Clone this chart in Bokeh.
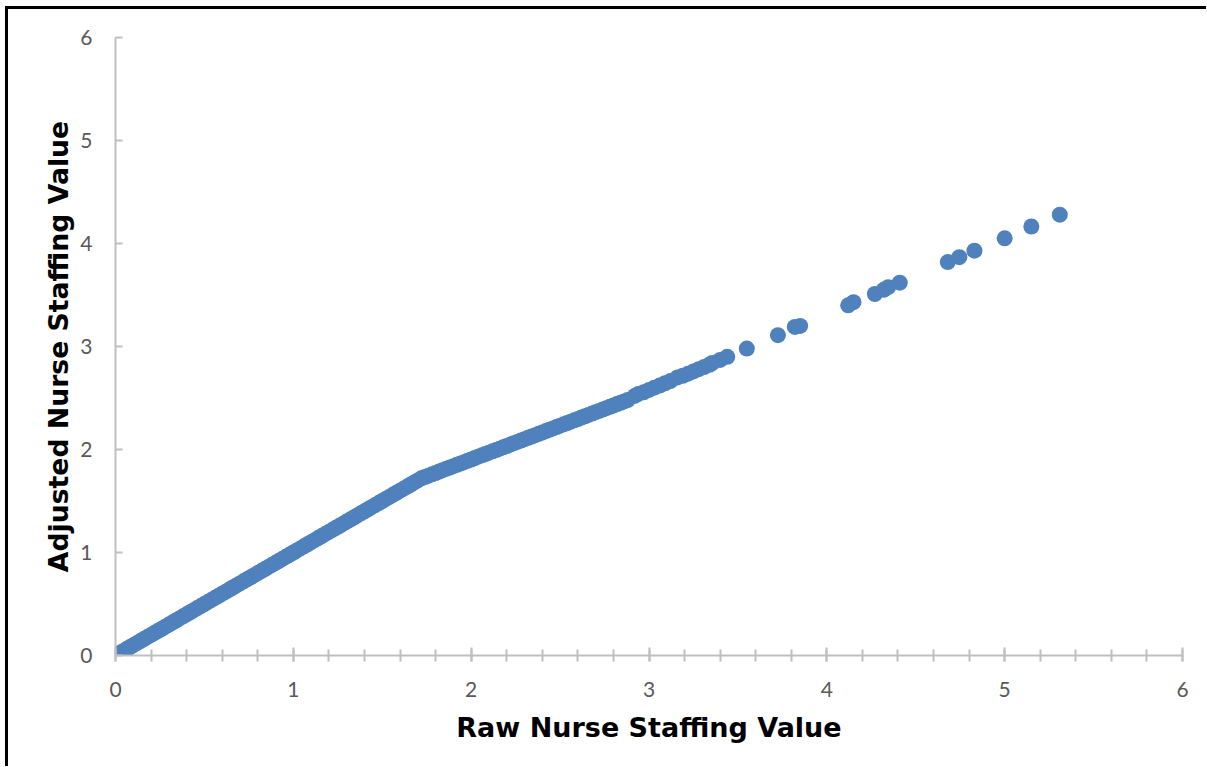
from bokeh.plotting import figure
from bokeh.models import SingleIntervalTicker, Range1d, ColumnDataSource
from bokeh.embed import file_html
from bokeh.resources import INLINE

# Dense part of the series (heavily overlapping markers)
raw_dense = [0.00, 0.02, 0.04, 0.06, 0.08, 0.10, 0.12, 0.14, 0.16, 0.18, 0.20,
             0.22, 0.24, 0.26, 0.28, 0.30, 0.32, 0.34, 0.36, 0.38, 0.40, 0.42,
             0.44, 0.46, 0.48, 0.50, 0.52, 0.54, 0.56, 0.58, 0.60, 0.62, 0.64,
             0.66, 0.68, 0.70, 0.72, 0.74, 0.76, 0.78, 0.80, 0.82, 0.84, 0.86,
             0.88, 0.90, 0.92, 0.94, 0.96, 0.98, 1.00, 1.02, 1.04, 1.06, 1.08,
             1.10, 1.12, 1.14, 1.16, 1.18, 1.20, 1.22, 1.24, 1.26, 1.28, 1.30,
             1.32, 1.34, 1.36, 1.38, 1.40, 1.42, 1.44, 1.46, 1.48, 1.50, 1.52,
             1.54, 1.56, 1.58, 1.60, 1.62, 1.64, 1.66, 1.68, 1.70, 1.72,
             1.74, 1.76, 1.78, 1.80, 1.82, 1.84, 1.86, 1.88, 1.90, 1.92, 1.94,
             1.96, 1.98, 2.00, 2.02, 2.04, 2.06, 2.08, 2.10, 2.12, 2.14, 2.16,
             2.18, 2.20, 2.22, 2.24, 2.26, 2.28, 2.30, 2.32, 2.34, 2.36, 2.38,
             2.40, 2.42, 2.44, 2.46, 2.48, 2.50, 2.52, 2.54, 2.56, 2.58, 2.60,
             2.62, 2.64, 2.66, 2.68, 2.70, 2.72, 2.74, 2.76, 2.78, 2.80, 2.82,
             2.84, 2.86, 2.88]
adj_dense = [0.00, 0.02, 0.04, 0.06, 0.08, 0.10, 0.12, 0.14, 0.16, 0.18, 0.20,
             0.22, 0.24, 0.26, 0.28, 0.30, 0.32, 0.34, 0.36, 0.38, 0.40, 0.42,
             0.44, 0.46, 0.48, 0.50, 0.52, 0.54, 0.56, 0.58, 0.60, 0.62, 0.64,
             0.66, 0.68, 0.70, 0.72, 0.74, 0.76, 0.78, 0.80, 0.82, 0.84, 0.86,
             0.88, 0.90, 0.92, 0.94, 0.96, 0.98, 1.00, 1.02, 1.04, 1.06, 1.08,
             1.10, 1.12, 1.14, 1.16, 1.18, 1.20, 1.22, 1.24, 1.26, 1.28, 1.30,
             1.32, 1.34, 1.36, 1.38, 1.40, 1.42, 1.44, 1.46, 1.48, 1.50, 1.52,
             1.54, 1.56, 1.58, 1.60, 1.62, 1.64, 1.66, 1.68, 1.70, 1.72,
             1.733, 1.746, 1.759, 1.772, 1.786, 1.799, 1.812, 1.825, 1.838,
             1.851, 1.864, 1.877, 1.890, 1.903, 1.917, 1.930, 1.943, 1.956,
             1.969, 1.982, 1.995, 2.008, 2.021, 2.034, 2.048, 2.061, 2.074,
             2.087, 2.100, 2.113, 2.126, 2.139, 2.152, 2.165, 2.179, 2.192,
             2.205, 2.218, 2.231, 2.244, 2.257, 2.270, 2.283, 2.296, 2.310,
             2.323, 2.336, 2.349, 2.362, 2.375, 2.388, 2.401, 2.414, 2.427,
             2.441, 2.454, 2.467, 2.480]

# Medium-density stretch
raw_mid = [2.92, 2.94, 2.97, 3.00, 3.03, 3.06, 3.09, 3.12, 3.16, 3.19, 3.22,
           3.25, 3.28, 3.31, 3.34]
adj_mid = [2.52, 2.54, 2.556, 2.578, 2.600, 2.621, 2.643, 2.664, 2.70, 2.715,
           2.736, 2.758, 2.780, 2.801, 2.823]

# Sparse points at the upper end
raw_sparse = [3.355, 3.40, 3.44, 3.55, 3.725, 3.82, 3.85, 4.12, 4.15, 4.27,
              4.32, 4.345, 4.41, 4.68, 4.745, 4.83, 5.00, 5.15, 5.31]
adj_sparse = [2.84, 2.87, 2.90, 2.98, 3.11, 3.19, 3.20, 3.40, 3.43, 3.51,
              3.55, 3.576, 3.62, 3.82, 3.867, 3.93, 4.05, 4.165, 4.28]

raw = raw_dense + raw_mid + raw_sparse
adj = adj_dense + adj_mid + adj_sparse

x_title = "Raw Nurse Staffing Value"
y_title = "Adjusted Nurse Staffing Value"

src = ColumnDataSource(dict(x=raw, y=adj))

p = figure(width=1199, height=758, output_backend="svg", toolbar_location=None,
           x_range=Range1d(0, 6), y_range=Range1d(0, 6),
           min_border_left=107, min_border_right=25,
           min_border_top=28, min_border_bottom=112)
p.styles = {"margin-left": "8px", "margin-top": "9px",
            "box-shadow": "-2px -2px 0px 1px #000000",
            "background-color": "white"}
p.outline_line_color = None
p.xgrid.grid_line_color = None
p.ygrid.grid_line_color = None
p.background_fill_color = "white"
p.border_fill_color = "white"

p.scatter("x", "y", source=src, size=16, fill_color="#4F81BD",
          line_color="#4F81BD", line_width=0)

axis_col = "#BFBFBF"
xa = p.xaxis[0]
xa.ticker = SingleIntervalTicker(interval=1, num_minor_ticks=5)
xa.axis_line_color = axis_col
xa.axis_line_width = 2
xa.major_tick_line_color = axis_col
xa.major_tick_line_width = 2
xa.major_tick_in = 8
xa.major_tick_out = 6
xa.minor_tick_line_color = axis_col
xa.minor_tick_line_width = 2
xa.minor_tick_in = 6
xa.minor_tick_out = 6
xa.major_label_standoff = 20
xa.major_label_text_font = "Lato"
xa.major_label_text_font_size = "21px"
xa.major_label_text_color = "#595959"
xa.axis_label = x_title
xa.axis_label_text_font = "DejaVu Sans"
xa.axis_label_text_font_style = "bold"
xa.axis_label_text_font_size = "27px"
xa.axis_label_text_color = "black"
xa.axis_label_standoff = 12

ya = p.yaxis[0]
ya.ticker = SingleIntervalTicker(interval=1, num_minor_ticks=0)
ya.axis_line_color = axis_col
ya.axis_line_width = 2
ya.major_tick_line_color = axis_col
ya.major_tick_line_width = 2
ya.major_tick_in = 7
ya.major_tick_out = 0
ya.minor_tick_line_color = None
ya.major_label_standoff = 23
ya.major_label_text_font = "Lato"
ya.major_label_text_font_size = "21px"
ya.major_label_text_color = "#595959"
ya.axis_label = y_title
ya.axis_label_text_font = "DejaVu Sans"
ya.axis_label_text_font_style = "bold"
ya.axis_label_text_font_size = "26.7px"
ya.axis_label_text_color = "black"
ya.axis_label_standoff = 3

open("out.html", "w").write(file_html(p, INLINE))
